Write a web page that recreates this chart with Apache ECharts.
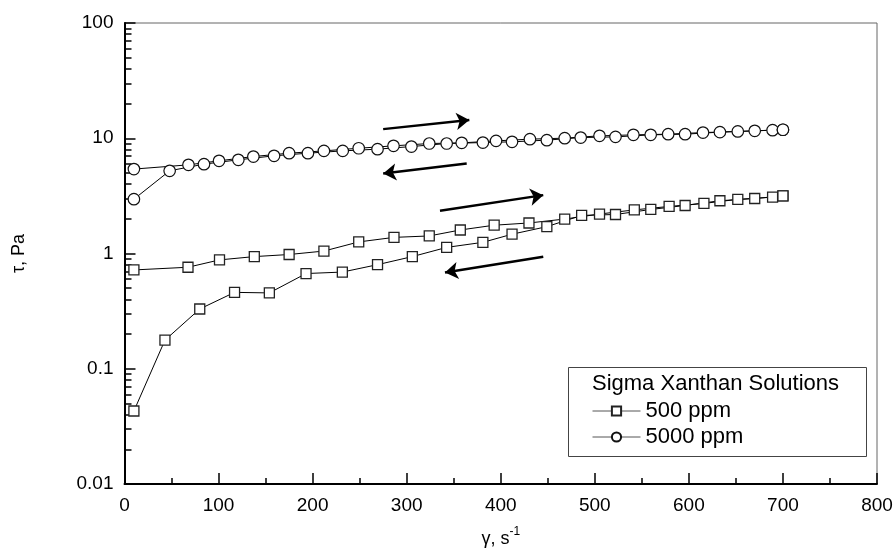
<!DOCTYPE html>
<html>
<head>
<meta charset="utf-8">
<script src="https://cdn.jsdelivr.net/npm/echarts@6/dist/echarts.min.js"></script>
<style>
  html, body { margin: 0; padding: 0; background: #fff; }
  #chart { width: 896px; height: 554px; }
</style>
</head>
<body>
<div id="chart"></div>
<script>
// Shear rate (1/s) and shear stress (Pa), ramp up then ramp down
const rate500Up   = [10, 67.5, 101, 138, 175, 212, 249, 286.5, 324, 357, 393, 430, 468, 505, 542, 579, 616, 652, 689, 700];
const tau500Up    = [0.72, 0.76, 0.88, 0.94, 0.98, 1.05, 1.26, 1.38, 1.42, 1.6, 1.76, 1.84, 1.99, 2.2, 2.39, 2.56, 2.72, 2.95, 3.08, 3.16];
const rate500Down = [700, 670, 633, 596, 559.5, 522, 486, 449, 412, 381, 342.5, 306, 269, 231.6, 193, 154, 117, 80, 43, 10];
const tau500Down  = [3.16, 3.0, 2.87, 2.61, 2.41, 2.18, 2.14, 1.71, 1.47, 1.25, 1.13, 0.94, 0.80, 0.69, 0.67, 0.455, 0.46, 0.33, 0.177, 0.043];

const rate5000Up   = [10, 68, 100.5, 137, 175, 212, 249, 286, 324, 358.5, 395, 431, 468, 505, 541, 578, 615, 652, 689, 700];
const tau5000Up    = [5.40, 5.88, 6.37, 6.94, 7.42, 7.77, 8.19, 8.59, 9.0, 9.12, 9.49, 9.82, 10.02, 10.49, 10.7, 10.85, 11.2, 11.45, 11.75, 11.85];
const rate5000Down = [700, 670, 633, 596, 559.4, 522, 485, 449, 412, 381, 342.5, 305, 269, 232, 195, 159, 121, 84.5, 48, 10];
const tau5000Down  = [11.85, 11.6, 11.3, 10.85, 10.7, 10.28, 10.14, 9.63, 9.31, 9.18, 9.0, 8.47, 8.04, 7.77, 7.42, 7.04, 6.5, 5.96, 5.22, 2.96];

// Sweep-direction arrows: [[x0, y0], [x1, y1]]
const sweepArrows = [
  [[275, 12.0], [366.6, 14.4]],
  [[363.8, 6.03], [275, 4.94]],
  [[335.4, 2.35], [445.2, 3.21]],
  [[445.2, 0.936], [340.7, 0.684]]
];

const xTicks = { min: 0, max: 800, interval: 100 };
const yRange = { min: 0.01, max: 100 };
// minor ticks at 2..9 within each decade, expressed as log10 positions
const yMinorTickExponents = [];
for (let e = -2; e < 2; e++) {
  for (let k = 2; k <= 9; k++) yMinorTickExponents.push(e + Math.log10(k));
}

const seriesNames = ['500 ppm', '5000 ppm'];
const legendTitle = 'Sigma Xanthan Solutions';

function zip(xs, ys) { return xs.map((x, i) => [x, ys[i]]); }

const FONT = 'Liberation Sans, Arial, sans-serif';

const chart = echarts.init(document.getElementById('chart'), null, { renderer: 'canvas' });

chart.setOption({
  animation: false,
  backgroundColor: '#fff',
  textStyle: { fontFamily: FONT },
  grid: {
    left: 124.5, right: 19, top: 23, bottom: 70,
    show: true, borderColor: '#666', borderWidth: 1, backgroundColor: 'transparent'
  },
  xAxis: {
    type: 'value',
    min: xTicks.min, max: xTicks.max, interval: xTicks.interval,
    name: '{n|γ, s}{sup|-1}',
    nameLocation: 'middle', nameGap: 42,
    nameTextStyle: {
      rich: {
        n: { fontSize: 18, fontFamily: FONT, color: '#000', verticalAlign: 'bottom' },
        sup: { fontSize: 12, fontFamily: FONT, color: '#000', verticalAlign: 'top', padding: [0, 0, 10, 0] }
      }
    },
    axisLine: { show: true, onZero: false, lineStyle: { color: '#000', width: 2 } },
    axisTick: { show: true, inside: true, length: 11, lineStyle: { color: '#000', width: 1.5 } },
    minorTick: { show: true, splitNumber: 2, length: 6, lineStyle: { color: '#000', width: 1.5 } },
    axisLabel: { color: '#000', fontSize: 19, fontFamily: FONT, margin: 12 },
    splitLine: { show: false }
  },
  yAxis: [
    {
      type: 'log', logBase: 10, min: yRange.min, max: yRange.max,
      name: 'τ, Pa', nameLocation: 'middle', nameGap: 96, nameRotate: 90,
      nameTextStyle: { fontSize: 18, fontFamily: FONT, color: '#000' },
      axisLine: { show: true, onZero: false, lineStyle: { color: '#000', width: 2 } },
      axisTick: { show: true, inside: true, length: 11, lineStyle: { color: '#000', width: 1.5 } },
      axisLabel: {
        color: '#000', fontSize: 19, fontFamily: FONT, margin: 11,
        formatter: v => String(+v.toPrecision(3))
      },
      splitLine: { show: false }
    },
    {
      // minor decade ticks on a linear log10 scale spanning the same range
      type: 'value',
      min: Math.log10(yRange.min), max: Math.log10(yRange.max),
      position: 'left', offset: 0,
      axisLine: { show: false },
      axisTick: {
        show: true, inside: true, length: 7,
        customValues: yMinorTickExponents,
        lineStyle: { color: '#000', width: 1.5 }
      },
      axisLabel: { show: false },
      splitLine: { show: false }
    }
  ],
  legend: {
    data: seriesNames,
    orient: 'vertical',
    left: 592, top: 400,
    padding: 0,
    itemGap: 4,
    itemWidth: 48, itemHeight: 11.5,
    textStyle: { fontSize: 22, fontFamily: FONT, color: '#000' },
    lineStyle: { color: '#555', width: 1 },
    selectedMode: false
  },
  graphic: [
    {
      type: 'rect', z: 1,
      shape: { x: 568.5, y: 367.5, width: 298, height: 89 },
      style: { fill: '#fff', stroke: '#444', lineWidth: 1 }
    },
    {
      type: 'text', z: 2, left: 592, top: 373,
      style: { text: legendTitle, fontSize: 22, fontFamily: FONT, fill: '#000' }
    }
  ],
  series: [
    {
      name: seriesNames[0],
      type: 'line',
      data: zip(rate500Up, tau500Up).concat(zip(rate500Down, tau500Down)),
      symbol: 'rect', symbolSize: 10, showAllSymbol: true,
      lineStyle: { color: '#000', width: 1 },
      itemStyle: { color: '#fff', borderColor: '#222', borderWidth: 1.3 },
      z: 3
    },
    {
      name: seriesNames[1],
      type: 'line',
      data: zip(rate5000Up, tau5000Up).concat(zip(rate5000Down, tau5000Down)),
      symbol: 'circle', symbolSize: 11.5, showAllSymbol: true,
      lineStyle: { color: '#000', width: 1 },
      itemStyle: { color: '#fff', borderColor: '#111', borderWidth: 1.2 },
      z: 3
    },
    {
      name: 'arrows',
      type: 'line',
      data: [],
      silent: true,
      markLine: {
        silent: true,
        symbol: ['none', 'arrow'],
        symbolSize: 13,
        label: { show: false },
        lineStyle: { color: '#000', width: 2.5, type: 'solid' },
        itemStyle: { color: '#000' },
        emphasis: { disabled: true },
        data: sweepArrows.map(a => [{ coord: a[0] }, { coord: a[1] }])
      }
    }
  ]
});
</script>
</body>
</html>
